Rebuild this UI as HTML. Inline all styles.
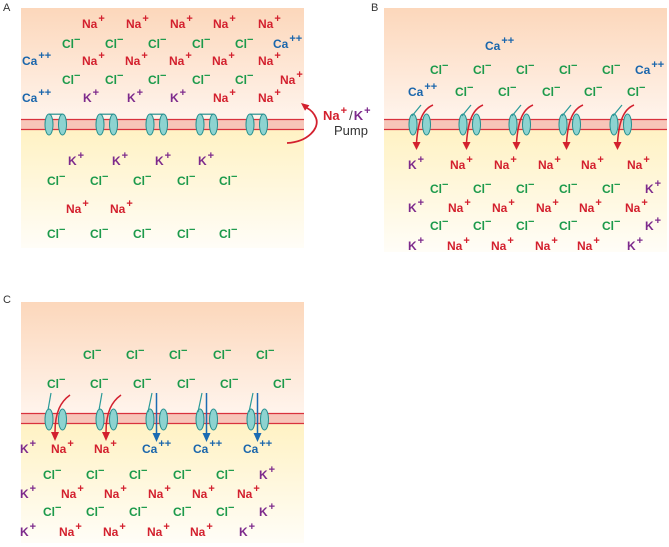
<!DOCTYPE html>
<html><head><meta charset="utf-8"><style>
html,body{margin:0;padding:0;background:#fff;}
svg{display:block;}
text{font-family:"Liberation Sans",sans-serif;font-weight:bold;font-size:12px;}
.n{fill:#d3202e}.c{fill:#1c9a4b}.a{fill:#1a66ac}.k{fill:#7d2a8c}
.p{font-size:11px}
.lb{font-weight:normal;font-size:11px;fill:#333}
</style></head><body>
<svg width="669" height="547" viewBox="0 0 669 547" xmlns="http://www.w3.org/2000/svg">
<defs>
<linearGradient id="up" x1="0" y1="0" x2="0" y2="1"><stop offset="0" stop-color="#fcd7bb"/><stop offset="1" stop-color="#fff4ec"/></linearGradient>
<linearGradient id="dn" x1="0" y1="0" x2="0" y2="1"><stop offset="0" stop-color="#fff2c4"/><stop offset="1" stop-color="#fffdf7"/></linearGradient>
<g id="ov"><ellipse cx="0" cy="0" rx="4" ry="10.5" fill="#8dd3d0" stroke="#27908f" stroke-width="1"/><ellipse cx="13.5" cy="0" rx="4" ry="10.5" fill="#8dd3d0" stroke="#27908f" stroke-width="1"/></g>
<g id="chA"><use href="#ov"/><path d="M0,-10.3 H13.5" stroke="#27908f" stroke-width="1.2" fill="none"/></g>
<g id="chB"><use href="#ov"/><path d="M-1,-8.5 L8,-19.5" stroke="#2a9a98" stroke-width="1.2" fill="none"/><path d="M20,-19.5 C9,-15 5,-2 3.5,18" stroke="#d3202e" stroke-width="1.5" fill="none"/><polygon points="-0.5,17.5 7.5,17.5 3.5,25.5" fill="#d3202e"/></g>
<g id="chCr"><use href="#ov"/><path d="M-1,-9.5 L2,-26.5" stroke="#2a9a98" stroke-width="1.2" fill="none"/><path d="M21,-24.5 C12,-18 6,-8 6,13" stroke="#d3202e" stroke-width="1.5" fill="none"/><polygon points="2,12.5 10,12.5 6,21.5" fill="#d3202e"/></g>
<g id="chCb"><use href="#ov"/><path d="M-2,-7.5 L2,-26.5" stroke="#2a9a98" stroke-width="1.2" fill="none"/><path d="M6.5,-26.5 V14" stroke="#1b6bb3" stroke-width="1.5" fill="none"/><polygon points="2.5,13.5 10.5,13.5 6.5,22.5" fill="#1b6bb3"/></g>
</defs>

<!-- Labels -->
<text class="lb" x="3" y="11">A</text>
<text class="lb" x="371" y="11">B</text>
<text class="lb" x="3" y="303">C</text>

<!-- Panel A -->
<rect x="21" y="8" width="283" height="111" fill="url(#up)"/>
<rect x="21" y="130" width="283" height="118" fill="url(#dn)"/>
<rect x="21" y="119" width="283" height="11" fill="#f7c5b9"/>
<path d="M21,119.5 H304 M21,129.5 H304" stroke="#d9323d" stroke-width="1.3"/>
<use href="#chA" transform="translate(49,124.5)"/>
<use href="#chA" transform="translate(100,124.5)"/>
<use href="#chA" transform="translate(150,124.5)"/>
<use href="#chA" transform="translate(200,124.5)"/>
<use href="#chA" transform="translate(250,124.5)"/>

<text class="n" x="82" y="28">Na<tspan class="p" dx="1" dy="-6">+</tspan></text>
<text class="n" x="126" y="28">Na<tspan class="p" dx="1" dy="-6">+</tspan></text>
<text class="n" x="170" y="28">Na<tspan class="p" dx="1" dy="-6">+</tspan></text>
<text class="n" x="213" y="28">Na<tspan class="p" dx="1" dy="-6">+</tspan></text>
<text class="n" x="258" y="28">Na<tspan class="p" dx="1" dy="-6">+</tspan></text>

<text class="c" x="62" y="48">Cl<tspan class="p" dy="-5">−</tspan></text>
<text class="c" x="105" y="48">Cl<tspan class="p" dy="-5">−</tspan></text>
<text class="c" x="148" y="48">Cl<tspan class="p" dy="-5">−</tspan></text>
<text class="c" x="192" y="48">Cl<tspan class="p" dy="-5">−</tspan></text>
<text class="c" x="235" y="48">Cl<tspan class="p" dy="-5">−</tspan></text>
<text class="a" x="273" y="48">Ca<tspan class="p" dx="1" dy="-6">++</tspan></text>

<text class="a" x="22" y="65">Ca<tspan class="p" dx="1" dy="-6">++</tspan></text>
<text class="n" x="82" y="65">Na<tspan class="p" dx="1" dy="-6">+</tspan></text>
<text class="n" x="125" y="65">Na<tspan class="p" dx="1" dy="-6">+</tspan></text>
<text class="n" x="169" y="65">Na<tspan class="p" dx="1" dy="-6">+</tspan></text>
<text class="n" x="212" y="65">Na<tspan class="p" dx="1" dy="-6">+</tspan></text>
<text class="n" x="258" y="65">Na<tspan class="p" dx="1" dy="-6">+</tspan></text>

<text class="c" x="62" y="84">Cl<tspan class="p" dy="-5">−</tspan></text>
<text class="c" x="105" y="84">Cl<tspan class="p" dy="-5">−</tspan></text>
<text class="c" x="148" y="84">Cl<tspan class="p" dy="-5">−</tspan></text>
<text class="c" x="192" y="84">Cl<tspan class="p" dy="-5">−</tspan></text>
<text class="c" x="235" y="84">Cl<tspan class="p" dy="-5">−</tspan></text>
<text class="n" x="280" y="84">Na<tspan class="p" dx="1" dy="-6">+</tspan></text>

<text class="a" x="22" y="102">Ca<tspan class="p" dx="1" dy="-6">++</tspan></text>
<text class="k" x="83" y="102">K<tspan class="p" dx="1" dy="-6">+</tspan></text>
<text class="k" x="127" y="102">K<tspan class="p" dx="1" dy="-6">+</tspan></text>
<text class="k" x="170" y="102">K<tspan class="p" dx="1" dy="-6">+</tspan></text>
<text class="n" x="213" y="102">Na<tspan class="p" dx="1" dy="-6">+</tspan></text>
<text class="n" x="258" y="102">Na<tspan class="p" dx="1" dy="-6">+</tspan></text>

<text class="k" x="68" y="165">K<tspan class="p" dx="1" dy="-6">+</tspan></text>
<text class="k" x="112" y="165">K<tspan class="p" dx="1" dy="-6">+</tspan></text>
<text class="k" x="155" y="165">K<tspan class="p" dx="1" dy="-6">+</tspan></text>
<text class="k" x="198" y="165">K<tspan class="p" dx="1" dy="-6">+</tspan></text>

<text class="c" x="47" y="185">Cl<tspan class="p" dy="-5">−</tspan></text>
<text class="c" x="90" y="185">Cl<tspan class="p" dy="-5">−</tspan></text>
<text class="c" x="133" y="185">Cl<tspan class="p" dy="-5">−</tspan></text>
<text class="c" x="177" y="185">Cl<tspan class="p" dy="-5">−</tspan></text>
<text class="c" x="219" y="185">Cl<tspan class="p" dy="-5">−</tspan></text>

<text class="n" x="66" y="213">Na<tspan class="p" dx="1" dy="-6">+</tspan></text>
<text class="n" x="110" y="213">Na<tspan class="p" dx="1" dy="-6">+</tspan></text>

<text class="c" x="47" y="238">Cl<tspan class="p" dy="-5">−</tspan></text>
<text class="c" x="90" y="238">Cl<tspan class="p" dy="-5">−</tspan></text>
<text class="c" x="133" y="238">Cl<tspan class="p" dy="-5">−</tspan></text>
<text class="c" x="177" y="238">Cl<tspan class="p" dy="-5">−</tspan></text>
<text class="c" x="219" y="238">Cl<tspan class="p" dy="-5">−</tspan></text>

<!-- Pump -->
<path d="M287,143 C308,142 320,128 316,118 C314,113 311,110 307,108" stroke="#d3202e" stroke-width="1.8" fill="none"/>
<polygon points="301,103 309.4,105.3 305,110.7" fill="#d3202e"/>
<text x="323" y="120" style="font-size:13px"><tspan class="n">Na</tspan><tspan class="n p" dx="1" dy="-6">+</tspan><tspan dx="2" dy="6" style="fill:#444;font-weight:normal">/</tspan><tspan class="k" dx="1">K</tspan><tspan class="k p" dx="1" dy="-6">+</tspan></text>
<text x="334" y="135" style="font-weight:normal;font-size:13px;fill:#333">Pump</text>

<!-- Panel B -->
<rect x="384" y="8" width="283" height="111" fill="url(#up)"/>
<rect x="384" y="130" width="283" height="122" fill="url(#dn)"/>
<rect x="384" y="119" width="283" height="11" fill="#f7c5b9"/>
<path d="M384,119.5 H667 M384,129.5 H667" stroke="#d9323d" stroke-width="1.3"/>
<use href="#chB" transform="translate(413,124.5)"/>
<use href="#chB" transform="translate(463,124.5)"/>
<use href="#chB" transform="translate(513,124.5)"/>
<use href="#chB" transform="translate(563,124.5)"/>
<use href="#chB" transform="translate(614,124.5)"/>

<text class="a" x="485" y="50">Ca<tspan class="p" dx="1" dy="-6">++</tspan></text>

<text class="c" x="430" y="74">Cl<tspan class="p" dy="-5">−</tspan></text>
<text class="c" x="473" y="74">Cl<tspan class="p" dy="-5">−</tspan></text>
<text class="c" x="516" y="74">Cl<tspan class="p" dy="-5">−</tspan></text>
<text class="c" x="559" y="74">Cl<tspan class="p" dy="-5">−</tspan></text>
<text class="c" x="602" y="74">Cl<tspan class="p" dy="-5">−</tspan></text>
<text class="a" x="635" y="74">Ca<tspan class="p" dx="1" dy="-6">++</tspan></text>

<text class="a" x="408" y="96">Ca<tspan class="p" dx="1" dy="-6">++</tspan></text>
<text class="c" x="455" y="96">Cl<tspan class="p" dy="-5">−</tspan></text>
<text class="c" x="498" y="96">Cl<tspan class="p" dy="-5">−</tspan></text>
<text class="c" x="542" y="96">Cl<tspan class="p" dy="-5">−</tspan></text>
<text class="c" x="584" y="96">Cl<tspan class="p" dy="-5">−</tspan></text>
<text class="c" x="627" y="96">Cl<tspan class="p" dy="-5">−</tspan></text>

<text class="k" x="408" y="169">K<tspan class="p" dx="1" dy="-6">+</tspan></text>
<text class="n" x="450" y="169">Na<tspan class="p" dx="1" dy="-6">+</tspan></text>
<text class="n" x="494" y="169">Na<tspan class="p" dx="1" dy="-6">+</tspan></text>
<text class="n" x="538" y="169">Na<tspan class="p" dx="1" dy="-6">+</tspan></text>
<text class="n" x="581" y="169">Na<tspan class="p" dx="1" dy="-6">+</tspan></text>
<text class="n" x="627" y="169">Na<tspan class="p" dx="1" dy="-6">+</tspan></text>

<text class="c" x="430" y="193">Cl<tspan class="p" dy="-5">−</tspan></text>
<text class="c" x="473" y="193">Cl<tspan class="p" dy="-5">−</tspan></text>
<text class="c" x="516" y="193">Cl<tspan class="p" dy="-5">−</tspan></text>
<text class="c" x="559" y="193">Cl<tspan class="p" dy="-5">−</tspan></text>
<text class="c" x="602" y="193">Cl<tspan class="p" dy="-5">−</tspan></text>
<text class="k" x="645" y="193">K<tspan class="p" dx="1" dy="-6">+</tspan></text>

<text class="k" x="408" y="212">K<tspan class="p" dx="1" dy="-6">+</tspan></text>
<text class="n" x="448" y="212">Na<tspan class="p" dx="1" dy="-6">+</tspan></text>
<text class="n" x="492" y="212">Na<tspan class="p" dx="1" dy="-6">+</tspan></text>
<text class="n" x="536" y="212">Na<tspan class="p" dx="1" dy="-6">+</tspan></text>
<text class="n" x="579" y="212">Na<tspan class="p" dx="1" dy="-6">+</tspan></text>
<text class="n" x="625" y="212">Na<tspan class="p" dx="1" dy="-6">+</tspan></text>

<text class="c" x="430" y="230">Cl<tspan class="p" dy="-5">−</tspan></text>
<text class="c" x="473" y="230">Cl<tspan class="p" dy="-5">−</tspan></text>
<text class="c" x="516" y="230">Cl<tspan class="p" dy="-5">−</tspan></text>
<text class="c" x="559" y="230">Cl<tspan class="p" dy="-5">−</tspan></text>
<text class="c" x="602" y="230">Cl<tspan class="p" dy="-5">−</tspan></text>
<text class="k" x="645" y="230">K<tspan class="p" dx="1" dy="-6">+</tspan></text>

<text class="k" x="408" y="250">K<tspan class="p" dx="1" dy="-6">+</tspan></text>
<text class="n" x="447" y="250">Na<tspan class="p" dx="1" dy="-6">+</tspan></text>
<text class="n" x="491" y="250">Na<tspan class="p" dx="1" dy="-6">+</tspan></text>
<text class="n" x="535" y="250">Na<tspan class="p" dx="1" dy="-6">+</tspan></text>
<text class="n" x="577" y="250">Na<tspan class="p" dx="1" dy="-6">+</tspan></text>
<text class="k" x="627" y="250">K<tspan class="p" dx="1" dy="-6">+</tspan></text>

<!-- Panel C -->
<rect x="21" y="302" width="283" height="111" fill="url(#up)"/>
<rect x="21" y="424" width="283" height="119" fill="url(#dn)"/>
<rect x="21" y="413" width="283" height="11" fill="#f7c5b9"/>
<path d="M21,413.5 H304 M21,423.5 H304" stroke="#d9323d" stroke-width="1.3"/>
<use href="#chCr" transform="translate(49,419.5)"/>
<use href="#chCr" transform="translate(100,419.5)"/>
<use href="#chCb" transform="translate(150,419.5)"/>
<use href="#chCb" transform="translate(200,419.5)"/>
<use href="#chCb" transform="translate(251,419.5)"/>

<text class="c" x="83" y="359">Cl<tspan class="p" dy="-5">−</tspan></text>
<text class="c" x="126" y="359">Cl<tspan class="p" dy="-5">−</tspan></text>
<text class="c" x="169" y="359">Cl<tspan class="p" dy="-5">−</tspan></text>
<text class="c" x="213" y="359">Cl<tspan class="p" dy="-5">−</tspan></text>
<text class="c" x="256" y="359">Cl<tspan class="p" dy="-5">−</tspan></text>

<text class="c" x="47" y="388">Cl<tspan class="p" dy="-5">−</tspan></text>
<text class="c" x="90" y="388">Cl<tspan class="p" dy="-5">−</tspan></text>
<text class="c" x="133" y="388">Cl<tspan class="p" dy="-5">−</tspan></text>
<text class="c" x="177" y="388">Cl<tspan class="p" dy="-5">−</tspan></text>
<text class="c" x="220" y="388">Cl<tspan class="p" dy="-5">−</tspan></text>
<text class="c" x="273" y="388">Cl<tspan class="p" dy="-5">−</tspan></text>

<text class="k" x="20" y="453">K<tspan class="p" dx="1" dy="-6">+</tspan></text>
<text class="n" x="51" y="453">Na<tspan class="p" dx="1" dy="-6">+</tspan></text>
<text class="n" x="94" y="453">Na<tspan class="p" dx="1" dy="-6">+</tspan></text>
<text class="a" x="142" y="453">Ca<tspan class="p" dx="1" dy="-6">++</tspan></text>
<text class="a" x="193" y="453">Ca<tspan class="p" dx="1" dy="-6">++</tspan></text>
<text class="a" x="243" y="453">Ca<tspan class="p" dx="1" dy="-6">++</tspan></text>

<text class="c" x="43" y="479">Cl<tspan class="p" dy="-5">−</tspan></text>
<text class="c" x="86" y="479">Cl<tspan class="p" dy="-5">−</tspan></text>
<text class="c" x="129" y="479">Cl<tspan class="p" dy="-5">−</tspan></text>
<text class="c" x="173" y="479">Cl<tspan class="p" dy="-5">−</tspan></text>
<text class="c" x="216" y="479">Cl<tspan class="p" dy="-5">−</tspan></text>
<text class="k" x="259" y="479">K<tspan class="p" dx="1" dy="-6">+</tspan></text>

<text class="k" x="20" y="498">K<tspan class="p" dx="1" dy="-6">+</tspan></text>
<text class="n" x="61" y="498">Na<tspan class="p" dx="1" dy="-6">+</tspan></text>
<text class="n" x="104" y="498">Na<tspan class="p" dx="1" dy="-6">+</tspan></text>
<text class="n" x="148" y="498">Na<tspan class="p" dx="1" dy="-6">+</tspan></text>
<text class="n" x="192" y="498">Na<tspan class="p" dx="1" dy="-6">+</tspan></text>
<text class="n" x="237" y="498">Na<tspan class="p" dx="1" dy="-6">+</tspan></text>

<text class="c" x="43" y="516">Cl<tspan class="p" dy="-5">−</tspan></text>
<text class="c" x="86" y="516">Cl<tspan class="p" dy="-5">−</tspan></text>
<text class="c" x="129" y="516">Cl<tspan class="p" dy="-5">−</tspan></text>
<text class="c" x="173" y="516">Cl<tspan class="p" dy="-5">−</tspan></text>
<text class="c" x="216" y="516">Cl<tspan class="p" dy="-5">−</tspan></text>
<text class="k" x="259" y="516">K<tspan class="p" dx="1" dy="-6">+</tspan></text>

<text class="k" x="20" y="536">K<tspan class="p" dx="1" dy="-6">+</tspan></text>
<text class="n" x="59" y="536">Na<tspan class="p" dx="1" dy="-6">+</tspan></text>
<text class="n" x="103" y="536">Na<tspan class="p" dx="1" dy="-6">+</tspan></text>
<text class="n" x="147" y="536">Na<tspan class="p" dx="1" dy="-6">+</tspan></text>
<text class="n" x="190" y="536">Na<tspan class="p" dx="1" dy="-6">+</tspan></text>
<text class="k" x="239" y="536">K<tspan class="p" dx="1" dy="-6">+</tspan></text>
</svg>
</body></html>
